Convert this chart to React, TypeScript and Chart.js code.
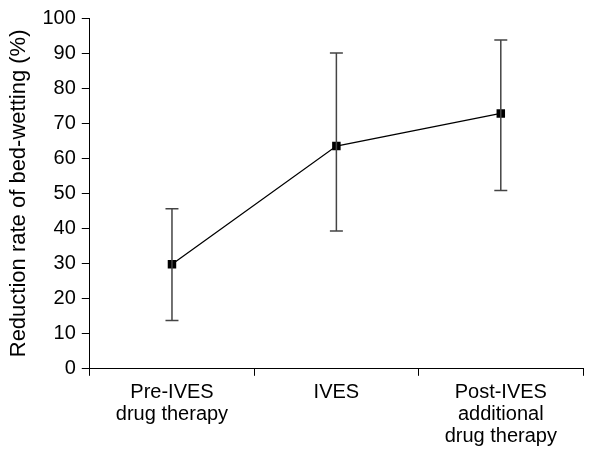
import React, { useEffect, useRef } from "react";
import { Chart, registerables } from "chart.js";

Chart.register(...registerables);

const categories: string[][] = [
  ["Pre-IVES", "drug therapy"],
  ["IVES"],
  ["Post-IVES", "additional", "drug therapy"],
];
const means: number[] = [29.8, 63.5, 72.8];
const errLow: number[] = [13.8, 39.3, 50.8];
const errHigh: number[] = [45.6, 90, 93.7];
const yTicks: number[] = [0, 10, 20, 30, 40, 50, 60, 70, 80, 90, 100];
const yTitle = "Reduction rate of bed-wetting (%)";

const FONT = "'Liberation Sans', Arial, sans-serif";

const errorBarPlugin = {
  id: "errorBars",
  afterDatasetsDraw(chart: any) {
    const ctx = chart.ctx;
    const xs = chart.scales.x;
    const ys = chart.scales.y;
    ctx.save();
    ctx.strokeStyle = "#444";
    ctx.lineWidth = 1.5;
    for (let i = 0; i < means.length; i++) {
      const x = xs.getPixelForValue(i);
      const yl = ys.getPixelForValue(errLow[i]);
      const yh = ys.getPixelForValue(errHigh[i]);
      ctx.beginPath();
      ctx.moveTo(x, yl);
      ctx.lineTo(x, yh);
      ctx.moveTo(x - 6.5, yl);
      ctx.lineTo(x + 6.5, yl);
      ctx.moveTo(x - 6.5, yh);
      ctx.lineTo(x + 6.5, yh);
      ctx.stroke();
    }
    ctx.restore();
  },
};

export default function App() {
  const ref = useRef<HTMLCanvasElement>(null);
  useEffect(() => {
    document.body.style.margin = "0";
    const chart = new Chart(ref.current!, {
      type: "line",
      data: {
        labels: categories as any,
        datasets: [
          {
            data: means,
            borderColor: "#000",
            borderWidth: 1.3,
            backgroundColor: "#000",
            pointStyle: "rect",
            pointRadius: 6,
            pointBorderWidth: 0,
            tension: 0,
          },
        ],
      },
      options: {
        animation: false,
        responsive: false,
        layout: { padding: { top: 2, right: 28, left: 6, bottom: 0 } },
        plugins: { legend: { display: false }, tooltip: { enabled: false } },
        scales: {
          x: {
            offset: true,
            grid: {
              offset: true,
              drawOnChartArea: false,
              drawTicks: true,
              tickLength: 7,
              color: "#000",
            },
            border: { display: true, color: "#000", width: 1 },
            ticks: {
              color: "#000",
              font: { family: FONT, size: 20, lineHeight: 1.12 },
              padding: 5,
              maxRotation: 0,
              autoSkip: false,
            },
          },
          y: {
            min: 0,
            max: 100,
            afterBuildTicks: (axis: any) => {
              axis.ticks = yTicks.map((v) => ({ value: v }));
            },
            grid: {
              drawOnChartArea: false,
              drawTicks: true,
              tickLength: 8,
              color: "#000",
            },
            border: { display: true, color: "#000", width: 1 },
            ticks: {
              color: "#000",
              font: { family: FONT, size: 20 },
              padding: 6,
            },
            title: {
              display: true,
              text: yTitle,
              color: "#000",
              font: { family: FONT, size: 22 },
              padding: { top: 0, bottom: 4 },
            },
          },
        },
      },
      plugins: [errorBarPlugin],
    });
    return () => chart.destroy();
  }, []);
  return (
    <div style={{ width: 611, height: 453 }}>
      <canvas ref={ref} width={611} height={453} />
    </div>
  );
}
